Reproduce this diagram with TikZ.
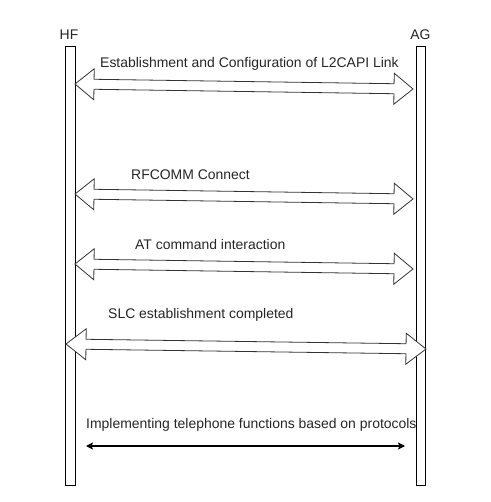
\documentclass[tikz,border=0pt]{standalone}
\usepackage{fontspec}
\setmainfont{Liberation Sans}
\usetikzlibrary{calc,arrows.meta}
\newcommand{\blockarrow}[3]{% #1 tip A, #2 tip B, #3 head length
  \coordinate (#1h) at ($(#1)!#3!(#2)$);
  \coordinate (#2h) at ($(#2)!#3!(#1)$);
  \draw[blockarr] (#1) -- ($(#1h)!15.5bp!90:(#2)$) -- ($(#1h)!5bp!90:(#2)$)
    -- ($(#2h)!5bp!-90:(#1)$) -- ($(#2h)!15.5bp!-90:(#1)$) -- (#2)
    -- ($(#2h)!15.5bp!90:(#1)$) -- ($(#2h)!5bp!90:(#1)$)
    -- ($(#1h)!5bp!-90:(#2)$) -- ($(#1h)!15.5bp!-90:(#2)$) -- cycle;
}
\begin{document}
\begin{tikzpicture}[x=1bp,y=-1bp,
  lifeline/.style={draw=black,line width=0.9bp},
  blockarr/.style={draw=black!80,line width=0.8bp,line join=miter,fill=white},
  lbl/.style={inner sep=0pt,font=\fontsize{14}{16}\selectfont,text=black!85},
  thinarr/.style={draw=black,line width=1.2bp,{Stealth[length=7bp,width=7bp,inset=1.5bp]}-{Stealth[length=7bp,width=7bp,inset=1.5bp]}}]
\useasboundingbox[fill=white] (0,0) rectangle (491,502);
% lifelines
\draw[lifeline] (65,46) rectangle (75,485);
\draw[lifeline] (416,46) rectangle (425,485);
\node[lbl] (hf) at (69,35) {HF};
\node[lbl] (ag) at (420.5,35) {AG};
% arrow tips
\coordinate (a1) at (75,84);  \coordinate (b1) at (413,89);
\coordinate (a2) at (75,194); \coordinate (b2) at (413,199);
\coordinate (a3) at (75,264); \coordinate (b3) at (413,269);
\coordinate (a4) at (66,344); \coordinate (b4) at (426,349);
\blockarrow{a1}{b1}{19bp}
\blockarrow{a2}{b2}{19bp}
\blockarrow{a3}{b3}{19bp}
\blockarrow{a4}{b4}{20bp}
\node[lbl,anchor=west] (t1) at (100,64) {Establishment and Configuration of L2CAPI Link};
\node[lbl,anchor=west] (t2) at (131,175) {RFCOMM Connect};
\node[lbl,anchor=west] (t3) at (135,245) {AT command interaction};
\node[lbl,anchor=west] (t4) at (108,315) {SLC establishment completed};
\node[lbl,anchor=west] (t5) at (86,425) {Implementing telephone functions based on protocols};
\coordinate (c1) at (86,446); \coordinate (c2) at (405,446);
\draw[thinarr] (c1) -- (c2);
\end{tikzpicture}
\end{document}
